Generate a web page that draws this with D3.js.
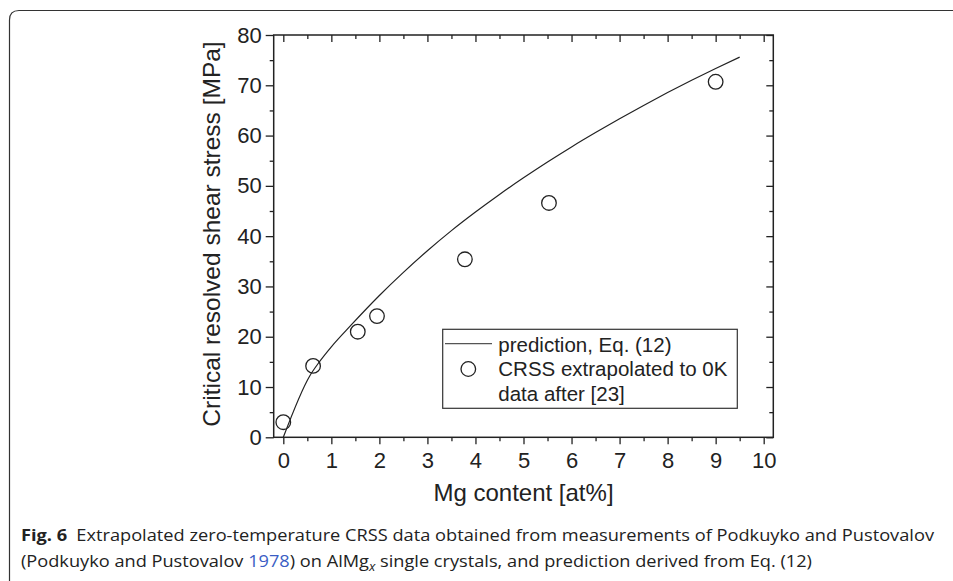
<!DOCTYPE html>
<html><head><meta charset="utf-8">
<script src="https://cdn.jsdelivr.net/npm/d3@7"></script>
<style>body{margin:0;background:#fff;} svg{display:block;}</style>
</head><body>
<svg id="chart" width="953" height="581"></svg>
<script>
// Data
const dataX = [0, 0.62, 1.55, 1.95, 3.78, 5.53, 9.0];
const dataY = [3.0, 14.2, 21.0, 24.1, 35.4, 46.6, 70.7];
const predX = [0, 0.55, 0.75, 1.0, 1.4, 2.0, 2.5, 3.0, 3.5, 4.0, 4.5, 5.0, 5.5, 6.0, 6.5, 7.0, 7.5, 8.0, 8.5, 9.0, 9.5];
const predY = [0, 12.2, 15.0, 18.0, 22.2, 28.2, 32.8, 37.1, 41.1, 44.8, 48.3, 51.6, 54.75, 57.75, 60.6, 63.35, 66.0, 68.55, 71.0, 73.35, 75.6];
const xTicks = [0,1,2,3,4,5,6,7,8,9,10];
const yTicks = [0,10,20,30,40,50,60,70,80];
const legendLabels = ["prediction, Eq. (12)", "CRSS extrapolated to 0K", "data after [23]"];

const svg = d3.select("#chart");
const FONT = "'Liberation Sans', Arial, sans-serif";

// outer figure frame
svg.append("path")
  .attr("d", "M9.5,581 L9.5,20 Q9.5,10.5 19,10.5 L953,10.5")
  .attr("fill","none").attr("stroke","#333").attr("stroke-width",1.2);

const L = 273.7, R = 773.3, T = 35, B = 437.3;
const x = d3.scaleLinear().domain([-0.2, 10.2]).range([L, R]);
const y = d3.scaleLinear().domain([0, 80]).range([B, T]);

const minorX = d3.range(0, 10.01, 0.5).filter(v => Math.abs(v - Math.round(v)) > 0.01);
const minorY = d3.range(5, 80, 10);

// axes
svg.append("g").attr("transform",`translate(0,${B})`)
  .call(d3.axisBottom(x).tickValues(xTicks).tickSize(7).tickPadding(8).tickFormat(d3.format("d")));
svg.append("g").attr("transform",`translate(0,${B})`)
  .call(d3.axisBottom(x).tickValues(minorX).tickSize(4).tickFormat(""));
svg.append("g").attr("transform",`translate(${L},0)`)
  .call(d3.axisLeft(y).tickValues(yTicks).tickSize(8).tickPadding(4).tickFormat(d3.format("d")));
svg.append("g").attr("transform",`translate(${L},0)`)
  .call(d3.axisLeft(y).tickValues(minorY).tickSize(4).tickFormat(""));
svg.append("g").attr("transform",`translate(0,${T})`)
  .call(d3.axisBottom(x).tickValues(xTicks).tickSize(7).tickFormat(""));
svg.append("g").attr("transform",`translate(0,${T})`)
  .call(d3.axisBottom(x).tickValues(minorX).tickSize(4).tickFormat(""));
svg.append("g").attr("transform",`translate(${R},0)`)
  .call(d3.axisLeft(y).tickValues(yTicks).tickSize(7).tickFormat(""));
svg.append("g").attr("transform",`translate(${R},0)`)
  .call(d3.axisLeft(y).tickValues(minorY).tickSize(4).tickFormat(""));

svg.selectAll(".domain").remove();
svg.selectAll(".tick line").attr("stroke","#222").attr("stroke-width",1.3);
svg.selectAll(".tick text").attr("font-family",FONT).attr("font-size",22).attr("fill","#222");

// frame
svg.append("rect").attr("x",L).attr("y",T).attr("width",R-L).attr("height",B-T)
  .attr("fill","none").attr("stroke","#222").attr("stroke-width",1.5);

// prediction line
const line = d3.line().x((d,i)=>x(predX[i])).y((d,i)=>y(predY[i])).curve(d3.curveMonotoneX);
svg.append("path").datum(predX).attr("d", line)
  .attr("fill","none").attr("stroke","#222").attr("stroke-width",1.2);

// data points
svg.selectAll("circle.pt").data(dataX).join("circle").attr("class","pt")
  .attr("cx",(d)=>x(d)).attr("cy",(d,i)=>y(dataY[i])).attr("r",7.3)
  .attr("fill","none").attr("stroke","#222").attr("stroke-width",1.3);

// axis titles
svg.append("text").attr("x", x(5)).attr("y", 501).attr("text-anchor","middle")
  .attr("font-family",FONT).attr("font-size",24).attr("fill","#222").text("Mg content [at%]");
svg.append("text").attr("transform","translate(220,234) rotate(-90)").attr("text-anchor","middle")
  .attr("font-family",FONT).attr("font-size",24.5).attr("fill","#222").text("Critical resolved shear stress [MPa]");

// legend
const lg = svg.append("g");
lg.append("rect").attr("x",442.7).attr("y",329.3).attr("width",294.6).attr("height",79)
  .attr("fill","#fff").attr("stroke","#333").attr("stroke-width",1.2);
lg.append("line").attr("x1",445).attr("x2",492).attr("y1",343.7).attr("y2",343.7)
  .attr("stroke","#555").attr("stroke-width",1.2);
lg.append("circle").attr("cx",468.3).attr("cy",369).attr("r",7.3)
  .attr("fill","none").attr("stroke","#222").attr("stroke-width",1.3);
const ly = [351.5, 376, 400.5];
legendLabels.forEach((t,i)=>{
  lg.append("text").attr("x",498.3).attr("y",ly[i]).attr("font-family",FONT)
    .attr("font-size",20.5).attr("fill","#222").text(t);
});

// caption
const CF = "'Open Sans', 'Noto Sans', sans-serif";
const c1 = svg.append("text").attr("x",21).attr("y",541).attr("font-family",CF).attr("font-size",16.5).attr("fill","#222")
  .attr("textLength",913).attr("lengthAdjust","spacingAndGlyphs");
c1.append("tspan").attr("font-weight","bold").text("Fig. 6");
c1.append("tspan").text("\u2002Extrapolated zero-temperature CRSS data obtained from measurements of Podkuyko and Pustovalov");
const c2 = svg.append("text").attr("x",21).attr("y",567).attr("font-family",CF).attr("font-size",16.5).attr("fill","#222")
  .attr("textLength",791).attr("lengthAdjust","spacingAndGlyphs");
c2.append("tspan").text("(Podkuyko and Pustovalov ");
c2.append("tspan").attr("fill","#3a5dc4").text("1978");
c2.append("tspan").text(") on AlMg");
c2.append("tspan").attr("font-style","italic").attr("font-size",12).attr("dy",4).text("x");
c2.append("tspan").attr("dy",-4).text(" single crystals, and prediction derived from Eq. (12)");
</script>
</body></html>
